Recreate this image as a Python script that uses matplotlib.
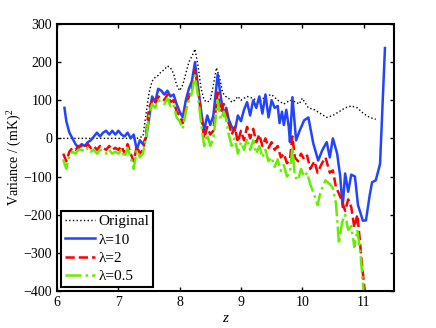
import matplotlib
matplotlib.use("Agg")
import matplotlib.pyplot as plt

plt.rcParams['font.family'] = ['Liberation Serif', 'DejaVu Serif']
plt.rcParams['mathtext.fontset'] = 'custom'
plt.rcParams['mathtext.rm'] = 'Liberation Serif'
plt.rcParams['mathtext.it'] = 'Liberation Serif:italic'

# Original (dotted)
z_orig = [6.1, 6.3, 6.5, 6.7, 6.9, 7.1, 7.3, 7.4, 7.5, 7.55, 7.6, 7.65, 7.7, 7.75, 7.8,
          7.85, 7.9, 7.95, 8.0, 8.05, 8.1, 8.15, 8.2, 8.25, 8.3, 8.35, 8.4, 8.45, 8.5,
          8.55, 8.6, 8.65, 8.7, 8.75, 8.8, 8.85, 8.9, 8.95, 9.0, 9.1, 9.2, 9.3, 9.4,
          9.5, 9.6, 9.7, 9.8, 9.9, 9.95, 10.0, 10.1, 10.2, 10.3, 10.4, 10.5, 10.6,
          10.7, 10.8, 10.9, 11.0, 11.1, 11.2]
v_orig = [0, 0, 0, 0, 0, 0, 0, 5, 120, 150, 160, 165, 175, 180, 190,
          185, 170, 140, 125, 140, 170, 200, 215, 234, 190, 130, 100, 95, 100,
          140, 185, 160, 120, 110, 105, 95, 100, 110, 100, 110, 105, 95, 110,
          115, 100, 90, 100, 95, 90, 105, 80, 75, 65, 55, 60, 70,
          80, 85, 80, 65, 55, 50]

# lambda = 10
z_l10 = [6.12, 6.15, 6.2, 6.25, 6.3, 6.35, 6.4, 6.45, 6.5, 6.55, 6.6, 6.65, 6.7, 6.75,
         6.8, 6.85, 6.9, 6.95, 7.0, 7.05, 7.1, 7.15, 7.2, 7.25, 7.3, 7.35, 7.4, 7.45,
         7.5, 7.55, 7.6, 7.65, 7.7, 7.75, 7.8, 7.85, 7.9, 7.95, 8.0, 8.05, 8.1, 8.15,
         8.2, 8.25, 8.28, 8.32, 8.36, 8.4, 8.45, 8.5, 8.55, 8.62, 8.67, 8.72, 8.76,
         8.8, 8.85, 8.9, 8.95, 9.0, 9.05, 9.1, 9.15, 9.2, 9.25, 9.3, 9.35, 9.4, 9.45,
         9.5, 9.55, 9.6, 9.63, 9.67, 9.7, 9.74, 9.78, 9.8, 9.84, 9.9, 9.96, 10.03,
         10.1, 10.18, 10.26, 10.33, 10.4, 10.45, 10.5, 10.57, 10.62, 10.66, 10.7,
         10.75, 10.8, 10.86, 10.91, 10.99, 11.04, 11.1, 11.14, 11.2, 11.27, 11.35]
v_l10 = [80, 45, 15, 0, -15, -25, -15, -20, -10, -5, 5, 15, 5, 15,
         20, 10, 20, 10, 20, 10, 5, 15, 0, 10, -30, -5, -15, 0,
         50, 110, 95, 130, 125, 115, 125, 110, 115, 90, 70, 55, 100, 130,
         150, 200, 160, 110, 60, 20, 60, 35, 60, 168, 110, 60, 80,
         50, 30, 20, 60, 45, 75, 95, 60, 100, 80, 110, 65, 115, 55,
         100, 80, 85, 40, 70, 35, 75, 30, -10, 108, -5, 21, 47,
         55, -13, -58, -30, -10, -50, 0, -40, -100, -180, -92,
         -140, -95, -100, -175, -216, -215, -150, -115, -110, -67, 237]

# lambda = 2
z_l2 = [6.1, 6.15, 6.2, 6.25, 6.3, 6.35, 6.4, 6.45, 6.5, 6.55, 6.6, 6.65, 6.7, 6.75,
        6.8, 6.85, 6.9, 6.95, 7.0, 7.05, 7.1, 7.15, 7.2, 7.25, 7.3, 7.35, 7.4, 7.45,
        7.5, 7.55, 7.6, 7.65, 7.7, 7.75, 7.8, 7.85, 7.9, 7.95, 8.0, 8.05, 8.1, 8.15,
        8.2, 8.25, 8.3, 8.35, 8.4, 8.45, 8.5, 8.55, 8.62, 8.67, 8.72, 8.76, 8.8,
        8.85, 8.9, 8.95, 9.0, 9.05, 9.1, 9.15, 9.2, 9.25, 9.3, 9.35, 9.4, 9.45,
        9.5, 9.55, 9.6, 9.65, 9.7, 9.75, 9.8, 9.84, 9.88, 9.93, 9.98, 10.03, 10.08,
        10.13, 10.2, 10.25, 10.32, 10.38, 10.45, 10.5, 10.55, 10.6, 10.65, 10.7,
        10.75, 10.8, 10.85, 10.9, 10.93, 10.98, 11.02]
v_l2 = [-40, -60, -35, -25, -30, -20, -20, -25, -15, -25, -20, -30, -20, -25,
        -30, -20, -30, -25, -30, -20, -40, -15, -40, -60, -20, -40, -30, 10,
        80, 100, 90, 110, 105, 100, 115, 95, 100, 70, 60, 40, 80, 110,
        130, 180, 130, 60, 0, 30, 10, 20, 120, 70, 90, 70, 40,
        10, 30, -10, 20, -5, 30, 0, 25, -10, 10, -20, 0, -25,
        -10, -30, -20, -50, -40, -65, -55, 5, -50, -60, -40, -55, -45,
        -80, -60, -90, -66, -50, -90, -84, -128, -145, -165, -190,
        -160, -180, -234, -200, -250, -339, -400]

# lambda = 0.5
z_l05 = [6.1, 6.15, 6.2, 6.25, 6.3, 6.35, 6.4, 6.45, 6.5, 6.55, 6.6, 6.65, 6.7, 6.75,
         6.8, 6.85, 6.9, 6.95, 7.0, 7.05, 7.1, 7.15, 7.2, 7.25, 7.3, 7.35, 7.4, 7.45,
         7.5, 7.55, 7.6, 7.65, 7.7, 7.75, 7.8, 7.85, 7.9, 7.95, 8.0, 8.05, 8.1, 8.15,
         8.2, 8.25, 8.3, 8.35, 8.4, 8.45, 8.5, 8.55, 8.62, 8.67, 8.72, 8.76, 8.8,
         8.85, 8.9, 8.95, 9.0, 9.05, 9.1, 9.15, 9.2, 9.25, 9.3, 9.35, 9.4, 9.45,
         9.5, 9.55, 9.6, 9.65, 9.7, 9.75, 9.8, 9.84, 9.88, 9.93, 9.98, 10.03, 10.08,
         10.13, 10.2, 10.25, 10.3, 10.38, 10.45, 10.5, 10.55, 10.6, 10.65, 10.7,
         10.75, 10.8, 10.85, 10.9, 10.95, 11.0]
v_l05 = [-55, -80, -45, -35, -40, -30, -30, -35, -25, -35, -30, -40, -30, -35,
         -40, -30, -40, -35, -40, -30, -50, -25, -50, -80, -30, -50, -40, 0,
         60, 90, 80, 100, 95, 90, 105, 85, 90, 55, 45, 25, 70, 100,
         120, 165, 110, 40, -20, 10, -20, 0, 100, 50, 70, 50, 10,
         -20, 0, -40, -10, -30, 0, -30, -5, -40, -20, -50, -30, -60,
         -50, -75, -55, -85, -70, -100, -90, -24, -100, -110, -80, -100, -90,
         -120, -150, -175, -140, -110, -120, -130, -170, -276, -220, -200,
         -240, -230, -285, -240, -300, -400]

fig = plt.figure(figsize=(4.36, 3.28), dpi=100)
ax = fig.add_axes([0.131, 0.113, 0.773, 0.814])

ax.plot(z_orig, v_orig, color='black', linestyle=':', linewidth=1.0, label='Original')
ax.plot(z_l10, v_l10, color='#2244ff', linestyle='-', linewidth=1.8, label='λ=10')
ax.plot(z_l2, v_l2, color='#ff0000', linestyle='--', linewidth=1.8, label='λ=2')
ax.plot(z_l05, v_l05, color='#66ee00', linestyle='-.', linewidth=1.8, label='λ=0.5')

ax.set_xlim(6, 11.5)
ax.set_ylim(-400, 300)
ax.set_xticks([6, 7, 8, 9, 10, 11])
ax.set_yticks(range(-400, 301, 100))
ax.tick_params(direction='in', top=True, right=True, labelsize=10, length=3, width=1)
for s in ax.spines.values():
    s.set_linewidth(1.5)

ax.set_xlabel('$z$', fontsize=11, labelpad=2)
ax.set_ylabel('Variance / (mK)$^2$', fontsize=10, labelpad=0)

leg = ax.legend(loc='lower left', fontsize=11, fancybox=False, framealpha=1,
                edgecolor='black', borderaxespad=0.25, handlelength=2.0,
                labelspacing=0.3, borderpad=0.25, handletextpad=0.2)
leg.get_frame().set_linewidth(1.5)

fig.savefig('out.png', dpi=100)
